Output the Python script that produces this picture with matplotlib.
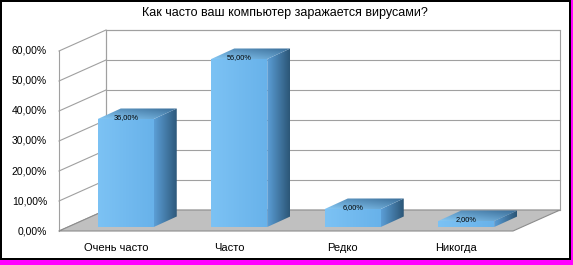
import numpy as np
import matplotlib
matplotlib.use("Agg")
import matplotlib.pyplot as plt
from matplotlib.patches import Polygon, Rectangle
from matplotlib.colors import LinearSegmentedColormap

# ---- data ----
title = "Как часто ваш компьютер заражается вирусами?"
categories = ["Очень часто", "Часто", "Редко", "Никогда"]
values = [36, 56, 6, 2]
data_labels = ["36,00%", "56,00%", "6,00%", "2,00%"]
yticks = [0, 10, 20, 30, 40, 50, 60]
ytick_labels = ["0,00%", "10,00%", "20,00%", "30,00%", "40,00%", "50,00%", "60,00%"]

# ---- layout (pixels) ----
W, H = 573, 265
X0PX, CATPX, Y0PX, PCTPX = 59, 113.5, 231, 3.0
DX, DY = 47 / CATPX, 21 / PCTPX          # wall depth offset
BX, BY = 10 / CATPX, 4 / PCTPX           # bar front face offset
BW = 56 / CATPX                          # bar width
BDX, BDY = 23 / CATPX, 10.5 / PCTPX      # bar depth

plt.rcParams['font.family'] = ['Liberation Sans', 'DejaVu Sans']

fig = plt.figure(figsize=(W / 100, H / 100), dpi=100)
fig.patch.set_facecolor('#ff00ff')
fig.patches.append(Rectangle((1 / W, 6 / H), 569 / W, 258 / H, transform=fig.transFigure,
                             facecolor='white', edgecolor='black', linewidth=1.44, zorder=-10))

ax = fig.add_axes([0, 0, 1, 1])
ax.set_facecolor('none')
ax.axis('off')
ax.set_zorder(1)


def grad_poly(verts, c0, c1, mode, z):
    poly = Polygon(verts, closed=True, facecolor='none', edgecolor='none', zorder=z)
    ax.add_patch(poly)
    xs = [v[0] for v in verts]
    ys = [v[1] for v in verts]
    n = 64
    t = np.linspace(0, 1, n)
    X, Y = np.meshgrid(t, t)
    if mode == 'h':
        arr = X
    elif mode == 'v':
        arr = Y
    else:
        arr = (X + Y) / 2
    cmap = LinearSegmentedColormap.from_list('g', [c0, c1])
    im = ax.imshow(arr, extent=(min(xs), max(xs), min(ys), max(ys)), origin='lower',
                   cmap=cmap, aspect='auto', interpolation='bilinear', zorder=z)
    im.set_clip_path(poly)


ncat = len(categories)
grid_c = '#a0a0a0'
top = yticks[-1]

# back wall
ax.add_patch(Polygon([(DX, DY), (ncat + DX, DY), (ncat + DX, top + DY), (DX, top + DY)],
                     closed=True, facecolor='white', edgecolor=grid_c, linewidth=0.8, zorder=1))
for v in yticks:
    ax.plot([DX, ncat + DX], [v + DY, v + DY], color=grid_c, lw=0.8, zorder=1.5)
    ax.plot([0, DX], [v, v + DY], color=grid_c, lw=0.8, zorder=1.5)
ax.plot([0, 0], [0, top], color=grid_c, lw=0.8, zorder=1.5)
ax.plot([DX, DX], [DY, top + DY], color=grid_c, lw=0.8, zorder=1.5)

# floor
ax.add_patch(Polygon([(0, 0), (ncat, 0), (ncat + DX, DY), (DX, DY)], closed=True,
                     facecolor='#c0c0c0', edgecolor='#8c8c8c', linewidth=0.8, zorder=2))

# bars
for i, v in enumerate(values):
    x0 = i + 0.5 - BW / 2 + BX
    x1 = x0 + BW
    y0 = BY
    y1 = BY + v
    z = 3 + i * 0.1
    # side face
    grad_poly([(x1, y0), (x1 + BDX, y0 + BDY), (x1 + BDX, y1 + BDY), (x1, y1)],
              '#5b9ed6', '#2c5677', 'h', z)
    # top face
    grad_poly([(x0, y1), (x1, y1), (x1 + BDX, y1 + BDY), (x0 + BDX, y1 + BDY)],
              '#86c8f4', '#3a6d98', 'd', z)
    # front face
    grad_poly([(x0, y0), (x1, y0), (x1, y1), (x0, y1)], '#7cc2f4', '#68b2ea', 'h', z + 0.01)
    ax.text(i + 0.5 + BX, y1 + 0.4, data_labels[i], ha='center', va='center',
            fontsize=5.3, color='black', zorder=10)

# axis labels
for v, lab in zip(yticks, ytick_labels):
    ax.text((47 - X0PX) / CATPX, v, lab, ha='right', va='center', fontsize=7.5, color='black')
for i, c in enumerate(categories):
    ax.text(i + 0.5, (Y0PX - 248) / PCTPX, c, ha='center', va='center', fontsize=8, color='black')

fig.text(285 / W, 1 - 13 / H, title, ha='center', va='center', fontsize=9, color='black')

ax.set_xlim(-X0PX / CATPX, (W - X0PX) / CATPX)
ax.set_ylim((Y0PX - H) / PCTPX, Y0PX / PCTPX)

fig.savefig('out.png', dpi=100, facecolor=fig.get_facecolor())
